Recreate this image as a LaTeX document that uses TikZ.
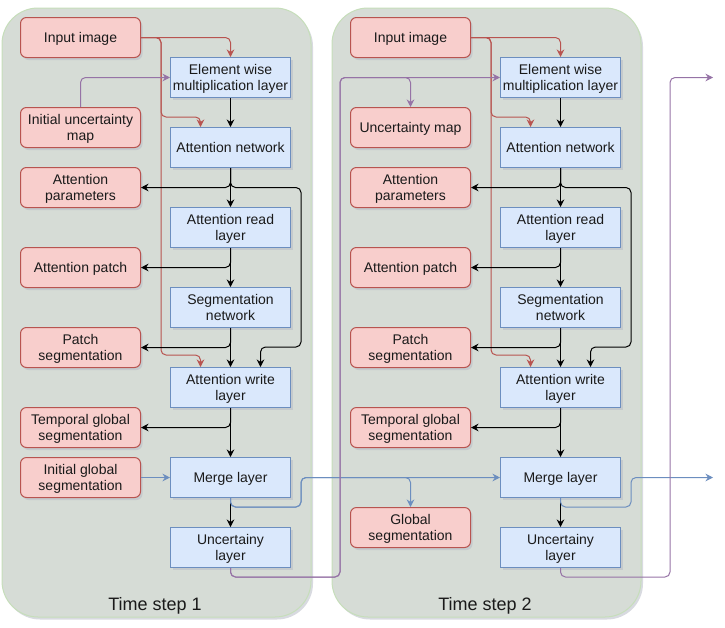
\documentclass[tikz,border=0pt]{standalone}
\usepackage{fontspec}
\setmainfont{Liberation Sans}
\usetikzlibrary{arrows.meta,calc}
\definecolor{redfill}{HTML}{F8CECC}
\definecolor{redline}{HTML}{B85450}
\definecolor{bluefill}{HTML}{DAE8FC}
\definecolor{blueline}{HTML}{6C8EBF}
\definecolor{purpleline}{HTML}{9673A6}
\definecolor{panelfill}{HTML}{D6DCD6}
\definecolor{panelline}{HTML}{C6DEBA}
\definecolor{shadowc}{HTML}{B8BCC6}
\definecolor{txt}{HTML}{1A1A1A}
\begin{document}
\begin{tikzpicture}[x=1pt,y=-1pt,
  font=\fontsize{14}{16}\selectfont,
  tip/.style={-{Stealth[length=7.5pt,width=7.5pt,inset=2.5pt]}},
  shade/.style={preaction={fill=shadowc,fill opacity=0.55,draw=none,transform canvas={xshift=2pt,yshift=-2.5pt}}},
  panel/.style={draw=panelline,fill=panelfill,line width=1pt,rounded corners=36pt,
    minimum width=309pt,minimum height=609pt,inner sep=0pt,shade},
  redbox/.style={draw=redline,fill=redfill,rounded corners=6pt,minimum width=120pt,
    minimum height=40pt,align=center,inner sep=0pt,line width=1pt,text=txt,text depth=0pt,shade},
  bluebox/.style={draw=blueline,fill=bluefill,minimum width=120pt,
    minimum height=40pt,align=center,inner sep=0pt,line width=1pt,text=txt,text depth=0pt,shade},
  ttl/.style={font=\fontsize{18}{20}\selectfont,text=txt,anchor=base,inner sep=0pt},
  blk/.style={draw=black,line width=1pt,rounded corners=5pt,tip},
  redarr/.style={draw=redline,line width=1pt,rounded corners=5pt,tip},
  bluearr/.style={draw=blueline,line width=1pt,rounded corners=5pt,tip},
  purparr/.style={draw=purpleline,line width=1pt,rounded corners=5pt,tip}]
\useasboundingbox (0,0) rectangle (725,627);

\foreach \p/\o/\um in {1/0/{Initial uncertainty\\map},2/330/{Uncertainty map}} {
  \node[panel] (panel\p) at (156.5+\o,312.5) {};
  \node[ttl] (title\p) at (155+\o,610) {Time step \p};
  \node[redbox] (ii\p) at (80.5+\o,37.5) {Input image};
  \node[redbox] (um\p) at (80.5+\o,127.5) {\um};
  \node[redbox] (ap\p) at (80.5+\o,187.5) {Attention\\parameters};
  \node[redbox] (pa\p) at (80.5+\o,267.5) {Attention patch};
  \node[redbox] (ps\p) at (80.5+\o,347.5) {Patch\\segmentation};
  \node[redbox] (tg\p) at (80.5+\o,427.5) {Temporal global\\segmentation};
  \node[bluebox] (ew\p) at (230.5+\o,77.5) {Element wise\\multiplication layer};
  \node[bluebox] (an\p) at (230.5+\o,147.5) {Attention network};
  \node[bluebox] (ar\p) at (230.5+\o,227.5) {Attention read\\layer};
  \node[bluebox] (sn\p) at (230.5+\o,307.5) {Segmentation\\network};
  \node[bluebox] (aw\p) at (230.5+\o,387.5) {Attention write\\layer};
  \node[bluebox] (ml\p) at (230.5+\o,477.5) {Merge layer};
  \node[bluebox] (ul\p) at (230.5+\o,547.5) {Uncertainy\\layer};
}
\node[redbox] (ig1) at (80.5,477.5) {Initial global\\segmentation};
\node[redbox] (gs2) at (410.5,527.5) {Global\\segmentation};
\coordinate (outb) at (713,477.5);
\coordinate (outp) at (713,77.5);

\foreach \p in {1,2} {
  % red input connectors
  \draw[redarr] (ii\p.east) -| (ew\p.north);
  \draw[redarr] (ii\p.east) -- ++(20,0) |- ($(an\p.north)+(-30,-10)$) -- ($(an\p.north)+(-30,0)$);
  \draw[redarr] (ii\p.east) -- ++(20,0) |- ($(aw\p.north)+(-30,-12)$) -- ($(aw\p.north)+(-30,0)$);
  % black main flow
  \draw[blk] (ew\p) -- (an\p);
  \draw[blk] (an\p) -- (ar\p);
  \draw[blk] (an\p.south) |- (ap\p.east);
  \draw[blk] (an\p.south) |- ($(ap\p.east)+(160,0)$) |- ($(aw\p.north)+(30,-20)$) -- ($(aw\p.north)+(30,0)$);
  \draw[blk] (ar\p) -- (sn\p);
  \draw[blk] (ar\p.south) |- (pa\p.east);
  \draw[blk] (sn\p) -- (aw\p);
  \draw[blk] (sn\p.south) |- (ps\p.east);
  \draw[blk] (aw\p) -- (ml\p);
  \draw[blk] (aw\p.south) |- (tg\p.east);
  \draw[blk] (ml\p) -- (ul\p);
}
\draw[purparr] (um1.north) |- (ew1.west);
\draw[bluearr] (ig1) -- (ml1);
% links between time steps
\draw[bluearr] (ml1.south) -- ++(0,9) -| ($(ml1.east)+(10,0)$) -- (ml2.west);
\draw[bluearr] (ml1.south) -- ++(0,9) -| ($(ml1.east)+(10,0)$) -| (gs2.north);
\draw[purparr] (ul1.south) -- ++(0,9) -| ($(ew1.west)+(170,0)$) -- (ew2.west);
\draw[purparr] (ul1.south) -- ++(0,9) -| ($(ew1.west)+(170,0)$) -| (um2.north);
\draw[bluearr] (ml2.south) -- ++(0,9) -| ($(ml2.east)+(10,0)$) -- (outb);
\draw[purparr] (ul2.south) -- ++(0,9) -| ($(ew2.west)+(170,0)$) -- (outp);
\end{tikzpicture}
\end{document}
